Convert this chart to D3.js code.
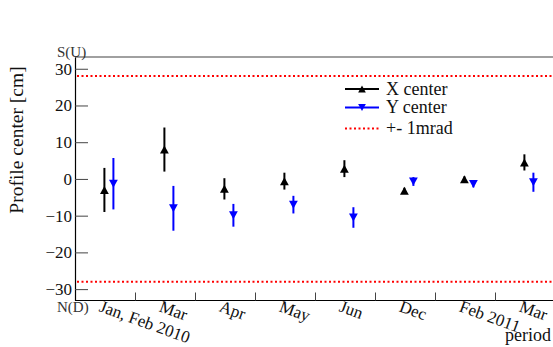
<!DOCTYPE html>
<html>
<head>
<meta charset="utf-8">
<script src="https://cdn.jsdelivr.net/npm/d3@7"></script>
<style>
html,body{margin:0;padding:0;background:#fff;}
svg{display:block;font-family:"Liberation Serif","Times New Roman",serif;}
svg text{font-family:"Liberation Serif","Times New Roman",serif;}
</style>
</head>
<body>
<svg id="c" width="553" height="347"></svg>
<script>
const categories = ["Jan, Feb 2010","Mar","Apr","May","Jun","Dec","Feb 2011","Mar"];
const xCenter = [-3.0, 8.0, -2.7, -0.6, 2.8, -3.2, -0.1, 4.5];
const xCenterErr = [6.0, 6.0, 2.9, 2.3, 2.3, 0.8, 0.8, 2.2];
const yCenter = [-1.3, -8.0, -9.9, -7.0, -10.5, -0.7, -1.4, -0.9];
const yCenterErr = [7.0, 6.1, 3.1, 2.4, 2.8, 1.2, 0.9, 2.6];
const yTicks = [-30, -20, -10, 0, 10, 20, 30];
const limitValue = 28;
const legendLabels = ["X center", "Y center", "+- 1mrad"];

const svg = d3.select("#c");
const x = d3.scaleLinear().domain([0, categories.length]).range([75, 555]);
const y = d3.scaleLinear().domain([-33.1, 33.2]).range([300.5, 57]);
const FONT = '"Liberation Serif","Times New Roman",serif';

// top gray line
svg.append("line").attr("x1", 75).attr("x2", 553).attr("y1", y(33.2)).attr("y2", y(33.2))
  .attr("stroke", "#808080").attr("stroke-width", 1.5);

// limit lines
[limitValue, -limitValue].forEach(v => {
  svg.append("line").attr("x1", 77).attr("x2", 553).attr("y1", y(v)).attr("y2", y(v))
    .attr("stroke", "#ff0000").attr("stroke-width", 2).attr("stroke-dasharray", "2,2.5");
});

// y axis
const yAxis = svg.append("g").attr("transform", "translate(75,0)")
  .call(d3.axisLeft(y).tickValues(yTicks).tickSizeInner(-13).tickSizeOuter(0).tickPadding(3));
yAxis.attr("font-family", FONT);
yAxis.select(".domain").attr("stroke", "#000").attr("stroke-width", 1.2);
yAxis.selectAll(".tick line").attr("stroke", "#444");
yAxis.selectAll("text").attr("font-family", FONT).attr("font-size", 17).attr("fill", "#111");

// x axis
const xAxis = svg.append("g").attr("transform", "translate(0,300.5)")
  .call(d3.axisBottom(x).tickValues(d3.range(1, categories.length)).tickSizeInner(-8).tickSizeOuter(0).tickFormat(""));
xAxis.select(".domain").attr("d", `M75,0H553`).attr("stroke", "#000").attr("stroke-width", 1.2);
xAxis.selectAll(".tick line").attr("stroke", "#444");

// x labels
svg.append("g").selectAll("text").data(categories).join("text")
  .attr("transform", (d, i) => `translate(${x(i + 0.5) - 2.5},299.5) rotate(20)`)
  .attr("dy", "0.72em")
  .attr("font-family", FONT)
  .attr("font-size", 17).attr("fill", "#111")
  .text(d => d);

// S(U), N(D), period
svg.append("text").attr("x", 57).attr("y", 56.5).attr("font-family", FONT).attr("font-size", 15).attr("fill", "#333").text("S(U)");
svg.append("text").attr("x", 57).attr("y", 311.5).attr("font-family", FONT).attr("font-size", 15).attr("fill", "#333").text("N(D)");
svg.append("text").attr("x", 551).attr("y", 340.5).attr("text-anchor", "end").attr("font-family", FONT).attr("font-size", 18).attr("fill", "#111").text("period");

// y title
svg.append("text").attr("transform", "translate(23,140) rotate(-90)").attr("text-anchor", "middle")
  .attr("font-family", FONT).attr("font-size", 19.5).attr("fill", "#111").text("Profile center [cm]");

function triUp(cx, cy, s) {
  return `M${cx},${cy - s * 0.5}L${cx + s * 0.55},${cy + s * 0.5}L${cx - s * 0.55},${cy + s * 0.5}Z`;
}
function triDown(cx, cy, s) {
  return `M${cx},${cy + s * 0.5}L${cx + s * 0.55},${cy - s * 0.5}L${cx - s * 0.55},${cy - s * 0.5}Z`;
}

const series = [
  {vals: xCenter, errs: xCenterErr, color: "#000000", off: 0.49, up: true},
  {vals: yCenter, errs: yCenterErr, color: "#0000ff", off: 0.64, up: false}
];
series.forEach(s => {
  const g = svg.append("g");
  g.selectAll("line").data(s.vals).join("line")
    .attr("x1", (d, i) => x(i + s.off)).attr("x2", (d, i) => x(i + s.off))
    .attr("y1", (d, i) => y(d + s.errs[i])).attr("y2", (d, i) => y(d - s.errs[i]))
    .attr("stroke", s.color).attr("stroke-width", 2);
  g.selectAll("path").data(s.vals).join("path")
    .attr("d", (d, i) => s.up ? triUp(x(i + s.off), y(d), 8) : triDown(x(i + s.off), y(d), 8))
    .attr("fill", s.color);
});

// legend
const legendY = [89, 107.5, 128.5];
const lg = svg.append("g");
lg.append("line").attr("x1", 345).attr("x2", 379).attr("y1", legendY[0]).attr("y2", legendY[0]).attr("stroke", "#000").attr("stroke-width", 2);
lg.append("path").attr("d", triUp(362, legendY[0], 7)).attr("fill", "#000");
lg.append("line").attr("x1", 345).attr("x2", 379).attr("y1", legendY[1]).attr("y2", legendY[1]).attr("stroke", "#0000ff").attr("stroke-width", 2);
lg.append("path").attr("d", triDown(362, legendY[1], 7)).attr("fill", "#0000ff");
lg.append("line").attr("x1", 345).attr("x2", 379).attr("y1", legendY[2]).attr("y2", legendY[2]).attr("stroke", "#ff0000").attr("stroke-width", 2).attr("stroke-dasharray", "2,2.5");
lg.selectAll("text").data(legendLabels).join("text")
  .attr("x", 386).attr("y", (d, i) => legendY[i]).attr("dy", "0.33em")
  .attr("font-family", FONT)
  .attr("font-size", 18).attr("fill", "#111").text(d => d);
</script>
</body>
</html>
